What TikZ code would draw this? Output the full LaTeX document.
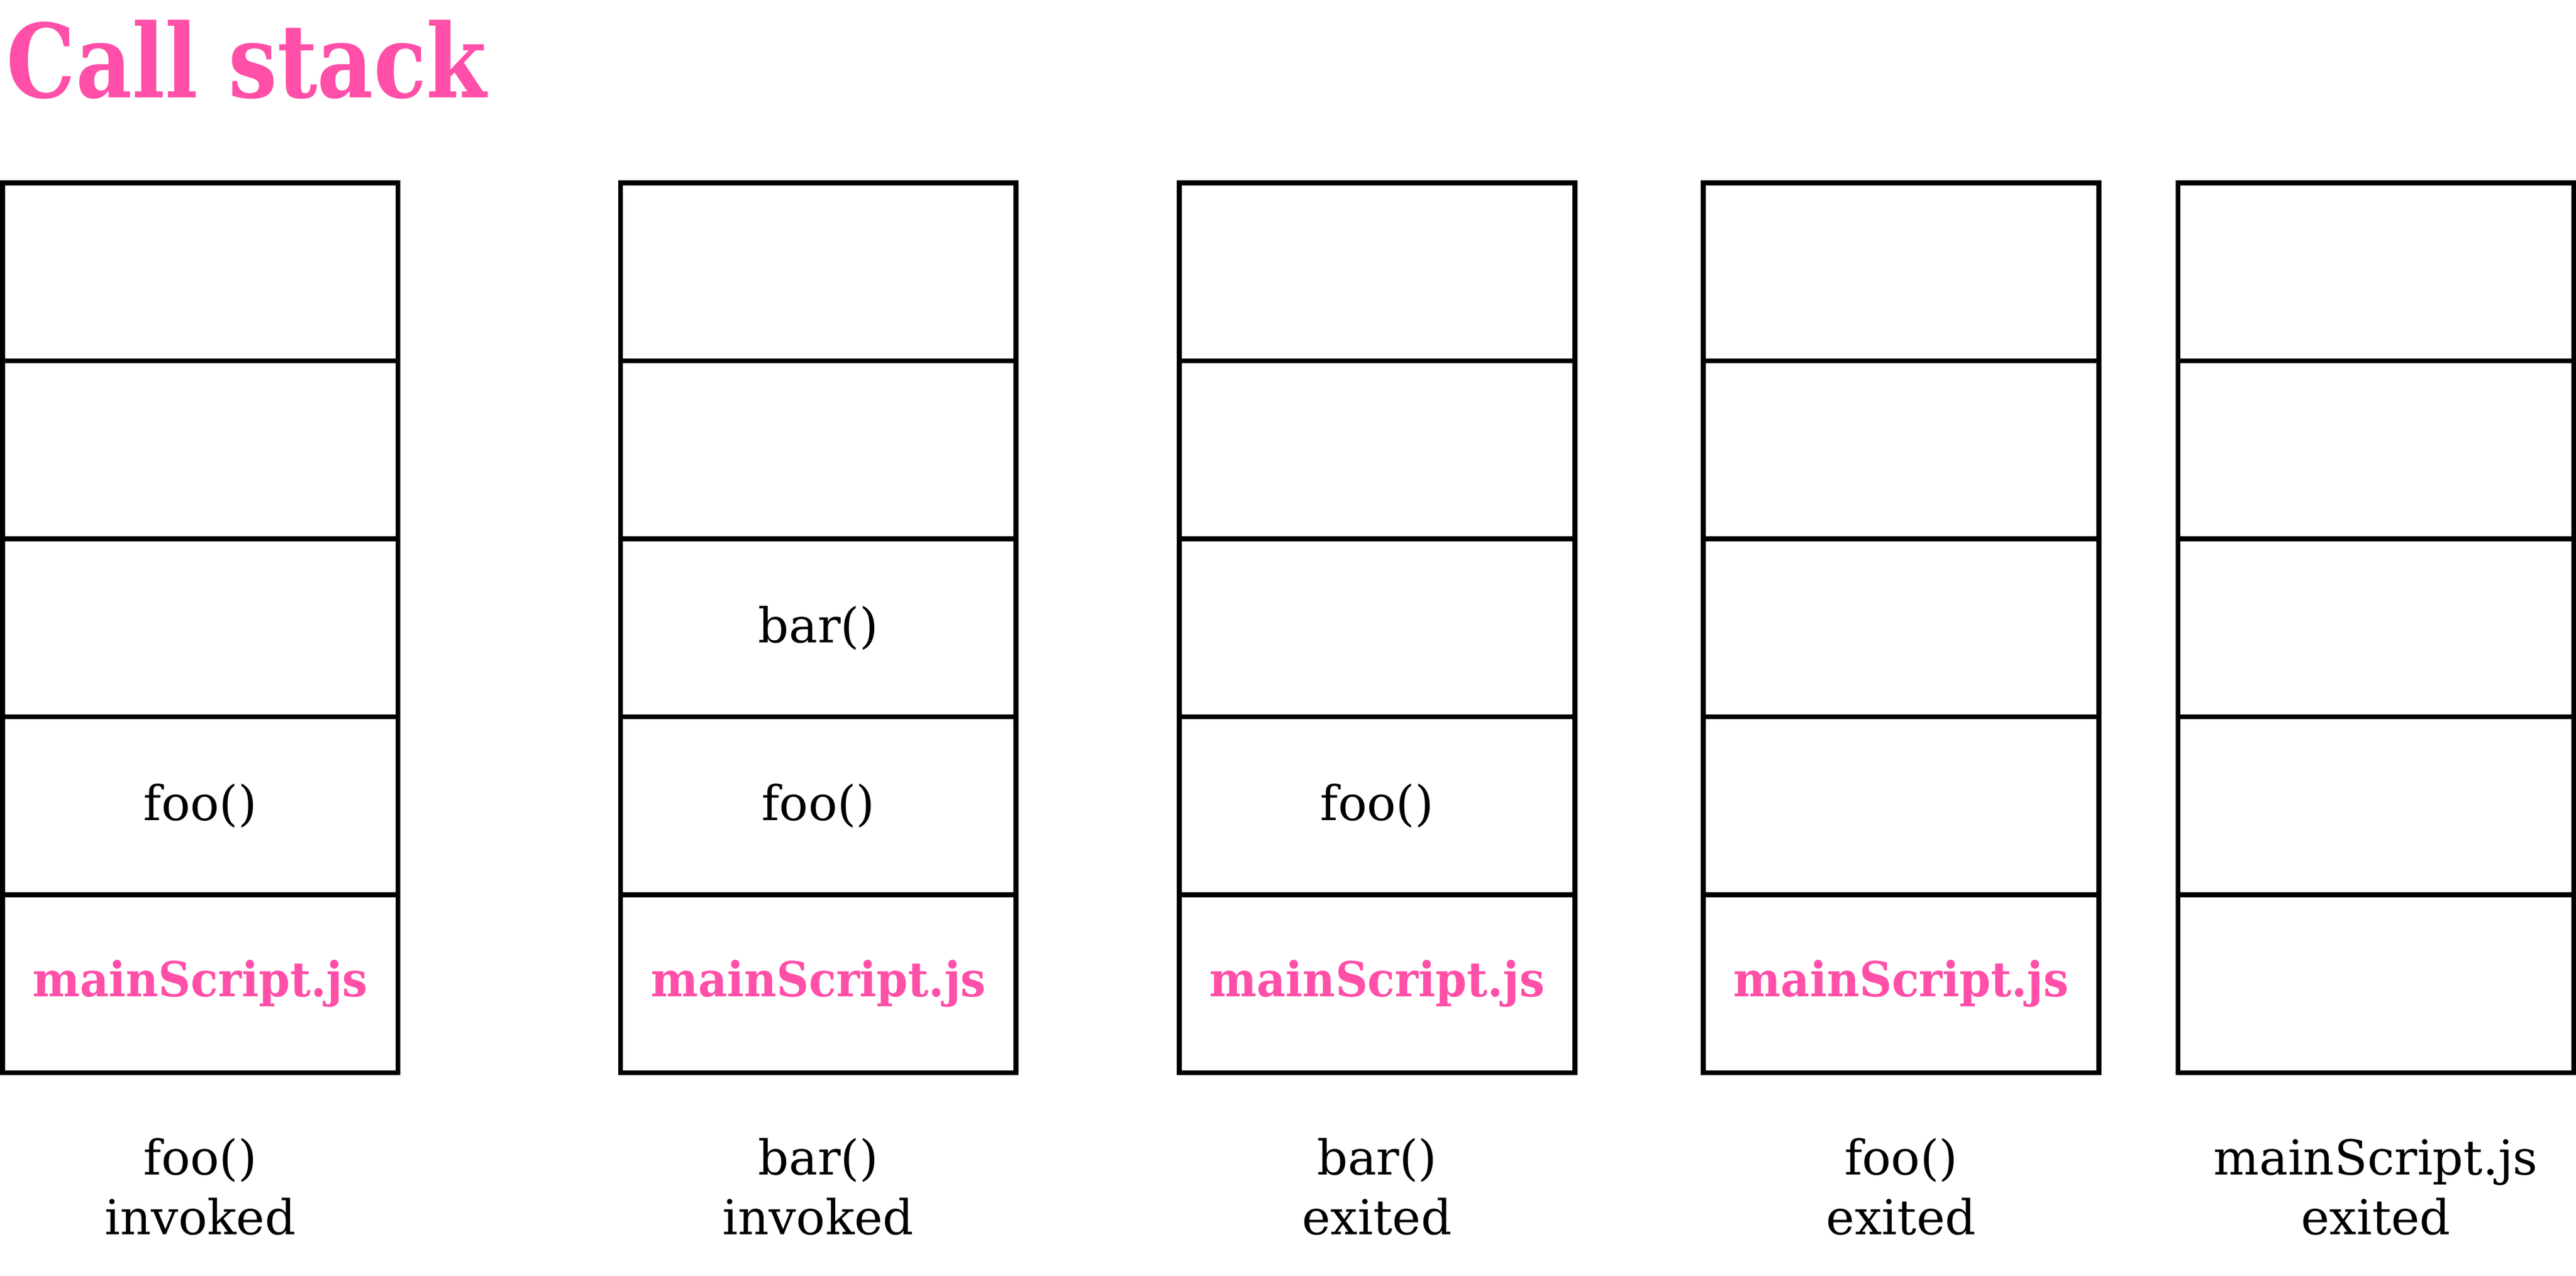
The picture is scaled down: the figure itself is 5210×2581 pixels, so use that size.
\documentclass[tikz,border=0pt]{standalone}
\usepackage{fontspec}
\setmainfont{DejaVu Serif}
\newfontfamily\titlefont[FakeStretch=0.85]{DejaVu Serif Bold}
\newfontfamily\framefont[FakeStretch=0.93]{DejaVu Serif Bold}
\usetikzlibrary{positioning}
\definecolor{stackpink}{RGB}{255,79,168}

\begin{document}
\begin{tikzpicture}[
        x=0.15bp, y=-0.15bp,
        every node/.style={font=\fontsize{14.6bp}{18.15bp}\selectfont},
        cell/.style={rectangle, draw, line width=1.5bp, minimum width=120bp, minimum height=54bp, inner sep=0pt, outer sep=0pt},
        script/.style={text=stackpink, font=\fontsize{14.6bp}{18.15bp}\framefont},
        caption/.style={align=center, anchor=base}
    ]
        \useasboundingbox (0,0) rectangle (5210,2581);

        \node[anchor=base west, inner sep=0pt, text=stackpink, font=\fontsize{31bp}{36bp}\titlefont] (title) at (12,197) {Call stack};

        % five stacks of five frames
        \foreach \s/\x in {a/405, b/1655, c/2785, d/3845, e/4805}
            \foreach \r in {1,...,5}
                \node[cell] (\s\r) at (\x,190+360*\r) {};

        % frames in use
        \node[script] (a5t) at (a5) {mainScript.js};
        \node (a4t) at (a4) {foo()};
        \node[script] (b5t) at (b5) {mainScript.js};
        \node (b4t) at (b4) {foo()};
        \node (b3t) at (b3) {bar()};
        \node[script] (c5t) at (c5) {mainScript.js};
        \node (c4t) at (c4) {foo()};
        \node[script] (d5t) at (d5) {mainScript.js};

        % Step captions
        \node[caption] (acap) at (405,2497) {foo()\\invoked};
        \node[caption] (bcap) at (1655,2497) {bar()\\invoked};
        \node[caption] (ccap) at (2785,2497) {bar()\\exited};
        \node[caption] (dcap) at (3845,2497) {foo()\\exited};
        \node[caption] (ecap) at (4805,2497) {mainScript.js\\exited};
    \end{tikzpicture}
\end{document}
